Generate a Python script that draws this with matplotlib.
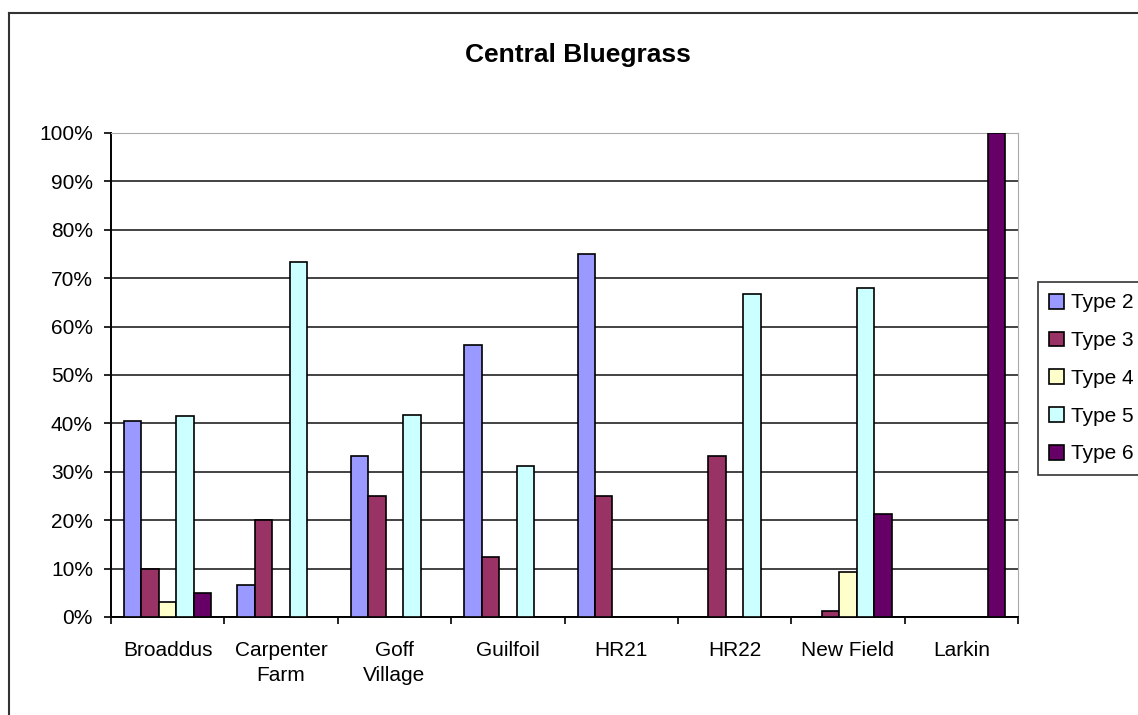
import matplotlib
matplotlib.use("Agg")
import matplotlib.pyplot as plt
import numpy as np
from matplotlib.lines import Line2D

plt.rcParams['font.family'] = ['Liberation Sans', 'DejaVu Sans']

sites = ['Broaddus', 'Carpenter\nFarm', 'Goff\nVillage', 'Guilfoil', 'HR21', 'HR22', 'New Field', 'Larkin']
series = ['Type 2', 'Type 3', 'Type 4', 'Type 5', 'Type 6']
type2 = [40.5, 6.7, 33.3, 56.3, 75.0, 0, 0, 0]
type3 = [10.0, 20.0, 25.0, 12.5, 25.0, 33.3, 1.2, 0]
type4 = [3.0, 0, 0, 0, 0, 0, 9.3, 0]
type5 = [41.5, 73.3, 41.7, 31.3, 0, 66.7, 68.0, 0]
type6 = [5.0, 0, 0, 0, 0, 0, 21.3, 100.0]
colors = ['#9999FF', '#993366', '#FFFFCC', '#CCFFFF', '#660066']

fig = plt.figure(figsize=(11.38, 7.15), dpi=100)
ax = fig.add_axes([111/1138, 1-617/715, (1018-111)/1138, (617-133)/715])

x = np.arange(len(sites))
w = 0.154
vals = [type2, type3, type4, type5, type6]
for i, (s, v) in enumerate(zip(series, vals)):
    ax.bar(x - 2*w + i*w + 0.5, v, width=w, color=colors[i], edgecolor='black',
           linewidth=1.2, label=s, zorder=3)

ax.set_xlim(0, len(sites))
ax.set_ylim(0, 100)
ax.set_yticks(np.arange(0, 101, 10))
ax.set_yticklabels([f'{t}%' for t in range(0, 101, 10)], fontsize=15)
ax.yaxis.grid(True, color='#222222', linewidth=1.2, zorder=1)
ax.set_xticks(np.arange(0, len(sites)+1))
ax.set_xticklabels([])
ax.set_xticks(x + 0.5, minor=True)
ax.set_xticklabels(sites, minor=True, fontsize=15, va='top', linespacing=1.4)
ax.tick_params(axis='x', which='minor', length=0, pad=17)
ax.tick_params(axis='x', which='major', length=5, width=1.2, direction='out')
ax.tick_params(axis='y', length=5, width=1.2, direction='out', pad=8)
for sp in ['top', 'right']:
    ax.spines[sp].set_color('#aaaaaa')
    ax.spines[sp].set_linewidth(0.8)
for sp in ['left', 'bottom']:
    ax.spines[sp].set_linewidth(1.4)

fig.text(578/1138, 1-55/715, 'Central Bluegrass', ha='center', va='center',
         fontsize=19, fontweight='bold')

leg = fig.legend(loc='upper left', bbox_to_anchor=(1038/1138, 1-282/715),
                 fontsize=15, frameon=True, fancybox=False, edgecolor='black',
                 handlelength=0.72, handleheight=0.72, handletextpad=0.3,
                 labelspacing=0.9, borderpad=0.55, borderaxespad=0)
leg.get_frame().set_linewidth(1.2)

# outer chart border
fig.add_artist(Line2D([9/1138, 9/1138], [0, 1-13/715], color='#333333', lw=1.5,
                      transform=fig.transFigure))
fig.add_artist(Line2D([9/1138, 1], [1-13/715, 1-13/715], color='#333333', lw=1.5,
                      transform=fig.transFigure))

fig.savefig('out.png', dpi=100)
